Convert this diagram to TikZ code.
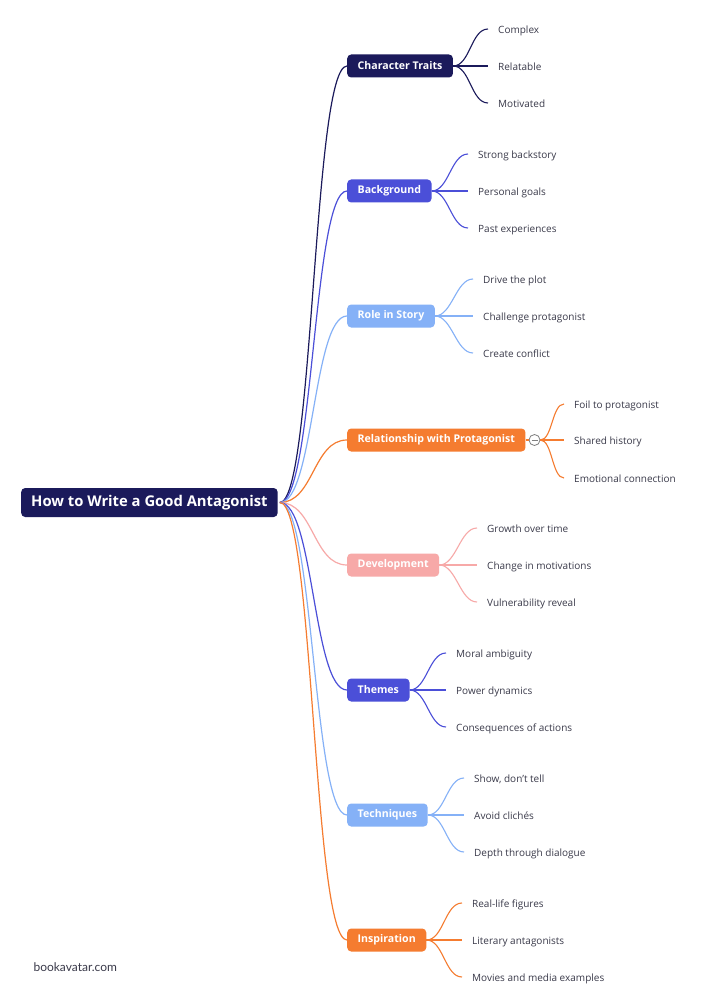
\documentclass[tikz,border=0pt]{standalone}
\usepackage{fontspec}
\setmainfont{Open Sans}
\newfontfamily\sitefont{Lato}
\usetikzlibrary{positioning}

\definecolor{navy}{HTML}{1B1A5B}
\definecolor{violet}{HTML}{4B4FD8}
\definecolor{sky}{HTML}{85B1F7}
\definecolor{tangerine}{HTML}{F57C30}
\definecolor{blush}{HTML}{F7A9A8}
\definecolor{leaftext}{HTML}{3A3A4A}

\tikzset{
  root/.style={fill=navy, text=white, rounded corners=4pt, inner xsep=10pt,
    minimum height=29pt, anchor=west, font=\bfseries\fontsize{14.8}{17}\selectfont},
  branch/.style={text=white, rounded corners=4pt, inner xsep=10.5pt,
    minimum height=23pt, anchor=west, font=\bfseries\fontsize{10.6}{13}\selectfont},
  leaf/.style={text=leaftext, anchor=west, inner xsep=0pt, inner ysep=0pt,
    text height=9.6pt, text depth=0.5pt, font=\fontsize{10}{12}\selectfont},
  rootlink/.style={line width=1.2pt},
  leaflink/.style={line width=1.1pt},
}

\begin{document}
\begin{tikzpicture}[x=1pt, y=-1pt]
    \useasboundingbox[fill=white] (0,0) rectangle (707,1000);

    \node[root] (root) at (21,502.5) {How to Write a Good Antagonist};

    % main topics
    \node[branch, fill=navy] (traits) at (347,66) {Character Traits};
    \node[branch, fill=violet] (background) at (347,191) {Background};
    \node[branch, fill=sky] (role) at (347,316) {Role in Story};
    \node[branch, fill=tangerine] (relation) at (347,440) {Relationship with Protagonist};
    \node[branch, fill=blush] (develop) at (347,565) {Development};
    \node[branch, fill=violet] (themes) at (347,690) {Themes};
    \node[branch, fill=sky] (techniques) at (347,815) {Techniques};
    \node[branch, fill=tangerine] (inspire) at (347,940) {Inspiration};

    \foreach \b/\c in {traits/navy, background/violet, role/sky, relation/tangerine,
                       develop/blush, themes/violet, techniques/sky, inspire/tangerine}
        \draw[rootlink, \c] ([xshift=2pt]root.east) .. controls +(34,0) and +(-34,0) .. (\b.west);

    % leaves
    \node[leaf] (traitsA) at (498,29) {Complex};
    \node[leaf] (traitsB) at (498,66) {Relatable};
    \node[leaf] (traitsC) at (498,103) {Motivated};

    \node[leaf] (backgroundA) at (478,154) {Strong backstory};
    \node[leaf] (backgroundB) at (478,191) {Personal goals};
    \node[leaf] (backgroundC) at (478,228) {Past experiences};

    \node[leaf] (roleA) at (483,279) {Drive the plot};
    \node[leaf] (roleB) at (483,316) {Challenge protagonist};
    \node[leaf] (roleC) at (483,353) {Create conflict};

    \node[leaf] (relationA) at (574,404) {Foil to protagonist};
    \node[leaf] (relationB) at (574,440) {Shared history};
    \node[leaf] (relationC) at (574,478) {Emotional connection};

    \node[leaf] (developA) at (487,528) {Growth over time};
    \node[leaf] (developB) at (487,565) {Change in motivations};
    \node[leaf] (developC) at (487,602) {Vulnerability reveal};

    \node[leaf] (themesA) at (456,653) {Moral ambiguity};
    \node[leaf] (themesB) at (456,690) {Power dynamics};
    \node[leaf] (themesC) at (456,727) {Consequences of actions};

    \node[leaf] (techniquesA) at (474,778) {Show, don't tell};
    \node[leaf] (techniquesB) at (474,815) {Avoid clichés};
    \node[leaf] (techniquesC) at (474,852) {Depth through dialogue};

    \node[leaf] (inspireA) at (472,903) {Real-life figures};
    \node[leaf] (inspireB) at (472,940) {Literary antagonists};
    \node[leaf] (inspireC) at (472,977) {Movies and media examples};

    % fold button
    \node[circle, draw=gray, fill=white, line width=0.8pt, minimum size=11pt, inner sep=0pt]
        (fold) at (534.5,440) {};
    \draw[gray, line width=0.8pt] ([xshift=-3pt]fold.center) -- ([xshift=3pt]fold.center);

    \foreach \b/\c in {traits/navy, background/violet, role/sky,
                       develop/blush, themes/violet, techniques/sky, inspire/tangerine}
        \foreach \l in {A,B,C}
            \draw[leaflink, \c] (\b.east) .. controls +(17,0) and +(-17,0) .. ([xshift=-10pt]\b\l.west);
    \draw[leaflink, tangerine] (relation.east) -- (fold.west);
    \foreach \l in {A,B,C}
        \draw[leaflink, tangerine] (fold.east) .. controls +(12,0) and +(-12,0) .. ([xshift=-10pt]relation\l.west);

    \node[anchor=west, text=leaftext, yshift=-1pt, font=\sitefont\fontsize{12}{14}\selectfont] (site) at (30,966) {bookavatar.com};
\end{tikzpicture}
\end{document}
